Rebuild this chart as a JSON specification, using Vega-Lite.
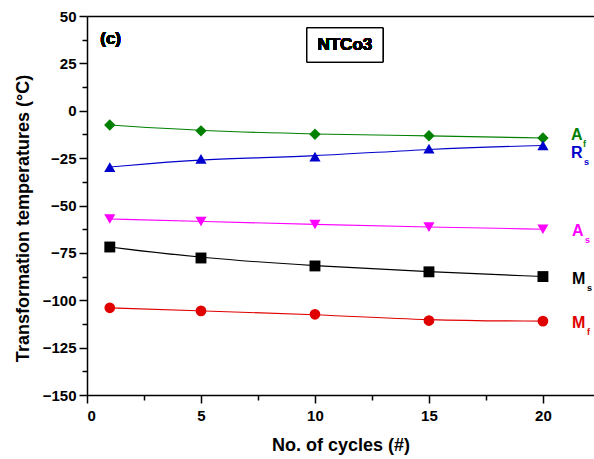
{
  "$schema": "https://vega.github.io/schema/vega-lite/v6.json",
  "width": 507,
  "height": 379,
  "autosize": {"type": "none"},
  "padding": {"left": 87, "top": 16, "right": 0, "bottom": 64},
  "background": "white",
  "config": {
    "view": {"stroke": null},
    "font": "Liberation Sans",
    "axis": {
      "labelFont": "Liberation Sans",
      "labelFontWeight": "bold",
      "labelFontSize": 15,
      "labelColor": "black",
      "titleFont": "Liberation Sans",
      "titleFontWeight": "bold",
      "titleFontSize": 18,
      "titleColor": "black",
      "domainColor": "black",
      "domainWidth": 1.5,
      "tickColor": "black",
      "tickWidth": 1.5,
      "grid": false
    }
  },
  "data": {
    "values": [
      {"cycle": 1, "series": "Af", "temp": -7.5, "main": "A", "sub": "f"},
      {"cycle": 5, "series": "Af", "temp": -10.6, "main": "A", "sub": "f"},
      {"cycle": 10, "series": "Af", "temp": -12.4, "main": "A", "sub": "f"},
      {"cycle": 15, "series": "Af", "temp": -13.2, "main": "A", "sub": "f"},
      {"cycle": 20, "series": "Af", "temp": -14.4, "main": "A", "sub": "f"},
      {"cycle": 1, "series": "Rs", "temp": -29.7, "main": "R", "sub": "s"},
      {"cycle": 5, "series": "Rs", "temp": -25.4, "main": "R", "sub": "s"},
      {"cycle": 10, "series": "Rs", "temp": -24.2, "main": "R", "sub": "s"},
      {"cycle": 15, "series": "Rs", "temp": -20.0, "main": "R", "sub": "s"},
      {"cycle": 20, "series": "Rs", "temp": -18.3, "main": "R", "sub": "s"},
      {"cycle": 1, "series": "As", "temp": -57.1, "main": "A", "sub": "s"},
      {"cycle": 5, "series": "As", "temp": -58.4, "main": "A", "sub": "s"},
      {"cycle": 10, "series": "As", "temp": -60.0, "main": "A", "sub": "s"},
      {"cycle": 15, "series": "As", "temp": -61.4, "main": "A", "sub": "s"},
      {"cycle": 20, "series": "As", "temp": -62.5, "main": "A", "sub": "s"},
      {"cycle": 1, "series": "Ms", "temp": -71.9, "main": "M", "sub": "s"},
      {"cycle": 5, "series": "Ms", "temp": -77.7, "main": "M", "sub": "s"},
      {"cycle": 10, "series": "Ms", "temp": -81.9, "main": "M", "sub": "s"},
      {"cycle": 15, "series": "Ms", "temp": -85.0, "main": "M", "sub": "s"},
      {"cycle": 20, "series": "Ms", "temp": -87.5, "main": "M", "sub": "s"},
      {"cycle": 1, "series": "Mf", "temp": -104.0, "main": "M", "sub": "f"},
      {"cycle": 5, "series": "Mf", "temp": -105.6, "main": "M", "sub": "f"},
      {"cycle": 10, "series": "Mf", "temp": -107.4, "main": "M", "sub": "f"},
      {"cycle": 15, "series": "Mf", "temp": -110.7, "main": "M", "sub": "f"},
      {"cycle": 20, "series": "Mf", "temp": -111.0, "main": "M", "sub": "f"}
    ]
  },
  "resolve": {"axis": {"x": "independent", "y": "independent"}},
  "layer": [
    {
      "mark": {"type": "line", "interpolate": "basis", "strokeWidth": 1.1},
      "encoding": {
        "x": {"field": "cycle", "type": "quantitative",
          "scale": {"domain": [0, 22.24], "nice": false, "zero": false},
          "axis": {"orient": "bottom", "values": [0, 5, 10, 15, 20], "tickSize": 8, "labelPadding": 5, "title": "No. of cycles (#)", "titlePadding": 13}},
        "y": {"field": "temp", "type": "quantitative",
          "scale": {"domain": [-150, 50], "nice": false, "zero": false},
          "axis": {"orient": "left", "values": [-150, -125, -100, -75, -50, -25, 0, 25, 50], "tickSize": 8, "labelPadding": 3, "title": "Transformation temperatures (°C)", "titlePadding": 10, "titleY": 202}},
        "color": {"field": "series", "type": "nominal",
          "scale": {"domain": ["Af", "Rs", "As", "Ms", "Mf"], "range": ["#008000", "#0000cc", "#ff00ff", "#000000", "#e00000"]},
          "legend": null},
        "detail": {"field": "series"}
      }
    },
    {
      "mark": {"type": "point", "filled": true, "opacity": 1},
      "encoding": {
        "x": {"field": "cycle", "type": "quantitative",
          "axis": {"orient": "bottom", "values": [2.5, 7.5, 12.5, 17.5], "tickSize": 5, "labels": false, "domain": false, "title": null}},
        "y": {"field": "temp", "type": "quantitative",
          "axis": {"orient": "left", "values": [-137.5, -112.5, -87.5, -62.5, -37.5, -12.5, 12.5, 37.5], "tickSize": 5, "labels": false, "domain": false, "title": null}},
        "color": {"field": "series", "type": "nominal", "legend": null},
        "shape": {"field": "series", "type": "nominal",
          "scale": {"domain": ["Af", "Rs", "As", "Ms", "Mf"], "range": ["diamond", "triangle-up", "triangle-down", "square", "circle"]},
          "legend": null},
        "size": {"field": "series", "type": "nominal",
          "scale": {"domain": ["Af", "Rs", "As", "Ms", "Mf"], "range": [130, 115, 115, 75, 95]},
          "legend": null}
      }
    },
    {
      "transform": [{"filter": "datum.cycle == 20 && (datum.series == 'As' || datum.series == 'Ms' || datum.series == 'Mf')"}],
      "mark": {"type": "text", "align": "left", "baseline": "middle", "dx": 29, "dy": 2, "fontSize": 16, "fontWeight": "bold", "font": "Liberation Sans"},
      "encoding": {
        "x": {"field": "cycle", "type": "quantitative",
          "axis": {"orient": "top", "ticks": false, "labels": false, "domain": true, "title": null}},
        "y": {"field": "temp", "type": "quantitative", "axis": null},
        "text": {"field": "main"},
        "color": {"field": "series", "type": "nominal", "legend": null}
      }
    },
    {
      "transform": [{"filter": "datum.cycle == 20 && datum.series == 'As'"}],
      "mark": {"type": "text", "align": "left", "baseline": "middle", "dx": 42, "dy": 11, "fontSize": 9, "fontWeight": "bold", "font": "Liberation Sans"},
      "encoding": {
        "x": {"field": "cycle", "type": "quantitative", "axis": null},
        "y": {"field": "temp", "type": "quantitative", "axis": null},
        "text": {"field": "sub"},
        "color": {"field": "series", "type": "nominal", "legend": null}
      }
    },
    {
      "transform": [{"filter": "datum.cycle == 20 && (datum.series == 'Ms' || datum.series == 'Mf')"}],
      "mark": {"type": "text", "align": "left", "baseline": "middle", "dx": 44, "dy": 11, "fontSize": 9, "fontWeight": "bold", "font": "Liberation Sans"},
      "encoding": {
        "x": {"field": "cycle", "type": "quantitative", "axis": null},
        "y": {"field": "temp", "type": "quantitative", "axis": null},
        "text": {"field": "sub"},
        "color": {"field": "series", "type": "nominal", "legend": null}
      }
    },
    {
      "transform": [{"filter": "datum.cycle == 20 && datum.series == 'Af'"}],
      "mark": {"type": "text", "align": "left", "baseline": "middle", "dx": 28, "dy": -3, "fontSize": 16, "fontWeight": "bold", "font": "Liberation Sans"},
      "encoding": {
        "x": {"field": "cycle", "type": "quantitative", "axis": null},
        "y": {"field": "temp", "type": "quantitative", "axis": null},
        "text": {"field": "main"},
        "color": {"field": "series", "type": "nominal", "legend": null}
      }
    },
    {
      "transform": [{"filter": "datum.cycle == 20 && datum.series == 'Af'"}],
      "mark": {"type": "text", "align": "left", "baseline": "middle", "dx": 40, "dy": 6, "fontSize": 9, "fontWeight": "bold", "font": "Liberation Sans"},
      "encoding": {
        "x": {"field": "cycle", "type": "quantitative", "axis": null},
        "y": {"field": "temp", "type": "quantitative", "axis": null},
        "text": {"field": "sub"},
        "color": {"field": "series", "type": "nominal", "legend": null}
      }
    },
    {
      "transform": [{"filter": "datum.cycle == 20 && datum.series == 'Rs'"}],
      "mark": {"type": "text", "align": "left", "baseline": "middle", "dx": 28, "dy": 8, "fontSize": 16, "fontWeight": "bold", "font": "Liberation Sans"},
      "encoding": {
        "x": {"field": "cycle", "type": "quantitative", "axis": null},
        "y": {"field": "temp", "type": "quantitative", "axis": null},
        "text": {"field": "main"},
        "color": {"field": "series", "type": "nominal", "legend": null}
      }
    },
    {
      "transform": [{"filter": "datum.cycle == 20 && datum.series == 'Rs'"}],
      "mark": {"type": "text", "align": "left", "baseline": "middle", "dx": 41, "dy": 17, "fontSize": 9, "fontWeight": "bold", "font": "Liberation Sans"},
      "encoding": {
        "x": {"field": "cycle", "type": "quantitative", "axis": null},
        "y": {"field": "temp", "type": "quantitative", "axis": null},
        "text": {"field": "sub"},
        "color": {"field": "series", "type": "nominal", "legend": null}
      }
    },
    {
      "mark": {"type": "rect", "fill": "white", "stroke": "black", "strokeWidth": 1},
      "encoding": {
        "x": {"datum": 9.65, "type": "quantitative", "axis": null},
        "x2": {"datum": 12.98},
        "y": {"datum": 43.7, "type": "quantitative", "axis": null},
        "y2": {"datum": 25.7}
      }
    },
    {
      "mark": {"type": "text", "text": "NTCo3", "align": "center", "baseline": "middle", "fontSize": 17, "fontWeight": "bold", "font": "Liberation Sans", "color": "black"},
      "encoding": {
        "x": {"datum": 11.31, "type": "quantitative", "axis": null},
        "y": {"datum": 34.7, "type": "quantitative", "axis": null}
      }
    },
    {
      "mark": {"type": "text", "text": "(c)", "align": "left", "baseline": "middle", "fontSize": 17, "fontWeight": "bold", "font": "Liberation Sans", "color": "black"},
      "encoding": {
        "x": {"datum": 0.58, "type": "quantitative", "axis": null},
        "y": {"datum": 38.1, "type": "quantitative", "axis": null}
      }
    }
  ]
}
